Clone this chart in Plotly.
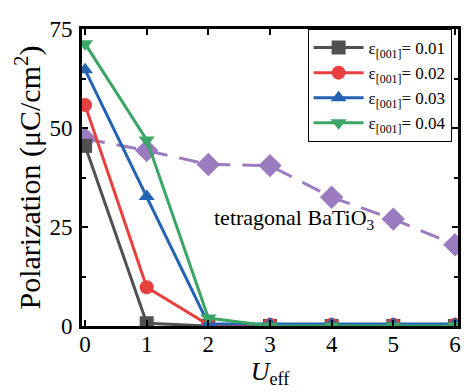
import plotly.graph_objects as go

u_eff = [0, 1, 2, 3, 4, 5, 6]
p_001 = [45.5, 0.7, 0, 0, 0, 0, 0]
p_002 = [55.8, 9.8, 0.3, 0.3, 0.3, 0.3, 0.3]
p_003 = [64.7, 32.7, 0.5, 0.5, 0.5, 0.5, 0.5]
p_004 = [71.3, 47, 2, 0, 0, 0, 0]
p_bto = [47.3, 44.3, 40.8, 40.5, 32.5, 27, 20.5]

series = [
    ("ε<sub>[001]</sub>= 0.01", p_001, "#505050", "square"),
    ("ε<sub>[001]</sub>= 0.02", p_002, "#e8403f", "circle"),
    ("ε<sub>[001]</sub>= 0.03", p_003, "#2463b4", "triangle-up"),
    ("ε<sub>[001]</sub>= 0.04", p_004, "#3aa565", "triangle-down"),
]

SERIF = "Liberation Serif"

fig = go.Figure()
fig.add_trace(go.Scatter(x=u_eff, y=p_bto, mode="lines+markers", showlegend=False,
                         line=dict(color="#9b7bbf", width=3, dash="20px,12px"),
                         marker=dict(symbol="diamond", size=18, color="#9b7bbf")))
for name, vals, col, sym in series:
    fig.add_trace(go.Scatter(x=u_eff, y=vals, mode="lines+markers", name=name,
                             line=dict(color=col, width=3),
                             marker=dict(symbol=sym, size=14, color=col)))

fig.add_annotation(x=3.39, y=27, text="tetragonal BaTiO<sub>3</sub>", showarrow=False,
                   font=dict(family=SERIF, size=22, color="black"))

axis_common = dict(showline=True, linewidth=3, linecolor="black", mirror="ticks",
                   ticks="inside", ticklen=6, tickwidth=2, tickcolor="black",
                   showgrid=False, zeroline=False,
                   tickfont=dict(family=SERIF, size=23, color="black"))

# page body adds an 8px margin, so the figure is sized to fit the 470x392 window
fig.update_layout(
    width=462, height=384,
    paper_bgcolor="white", plot_bgcolor="white",
    margin=dict(l=74, r=9, t=12, b=66),
    font=dict(family=SERIF, color="black"),
    xaxis=dict(range=[-0.05, 6.05], tickvals=u_eff, ticklabelstandoff=-5,
               title=dict(text="<i>U</i><sub>eff</sub>", font=dict(family=SERIF, size=26), standoff=2),
               **axis_common),
    yaxis=dict(range=[0, 75], tickvals=[0, 25, 50, 75], ticklabelstandoff=2,
               minor=dict(tickvals=[12.5, 37.5, 62.5], ticks="inside", ticklen=4, tickwidth=2, tickcolor="black"),
               title=dict(text="Polarization (μC/cm<sup>2</sup>)", font=dict(family=SERIF, size=30), standoff=0),
               **axis_common),
    legend=dict(x=0.6, y=1.0, xanchor="left", yanchor="top",
                bgcolor="white", bordercolor="black", borderwidth=1,
                font=dict(family=SERIF, size=17, color="black"),
                tracegroupgap=0, itemwidth=50),
)

fig.write_html("out.html")
